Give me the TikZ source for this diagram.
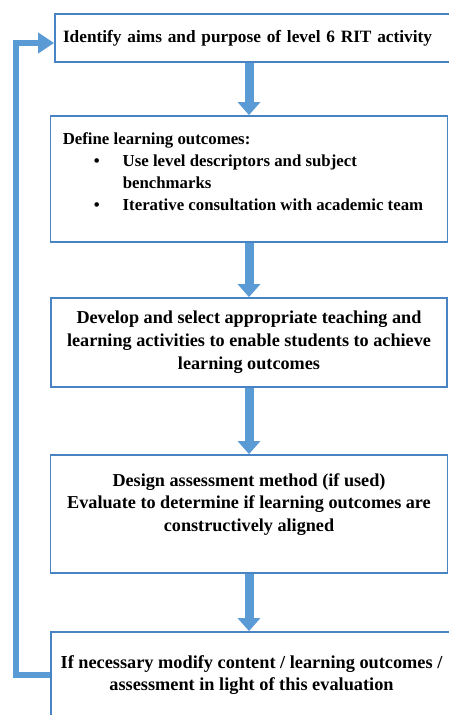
\documentclass[tikz,border=0pt]{standalone}
\usepackage{fontspec}
\setmainfont{Liberation Serif}
\usetikzlibrary{arrows.meta}

\definecolor{flowblue}{RGB}{91,155,213}
\definecolor{edgeblue}{RGB}{72,132,196}

\tikzset{stage/.style={rectangle, draw=edgeblue, line width=1.8pt, fill=white, inner sep=0pt,
        font=\fontsize{18.2}{23}\selectfont\bfseries, align=center},
        stagetext/.style={inner sep=0pt, font=\fontsize{18.2}{22.5}\selectfont\bfseries},
        flow/.style={draw=flowblue, line width=9pt, -{Triangle[length=13pt,width=22pt]}},
        back/.style={draw=flowblue, line width=6pt, -{Triangle[length=16pt,width=20pt]}}}

\begin{document}
\begin{tikzpicture}[x=1pt,y=-1pt]

	\useasboundingbox (0,0) rectangle (449,715); \clip (0,0)
        rectangle (449,715); \fill[white] (0,0) rectangle (449,715);

	\node[stage, minimum width=397pt, minimum height=48pt, text
        width=381pt, align=left, font=\fontsize{17.3}{22}\selectfont\bfseries]
        (aims) at (253.5,38) {Identify aims and purpose of level 6 RIT
        activity};
	\node[stage, minimum width=397pt, minimum height=126pt]
        (outcomes) at (249,179) {};
	\node[stagetext, anchor=north west, align=left,
        font=\fontsize{16.8}{22}\selectfont\bfseries] (outcomes-t) at
        ([xshift=13pt,yshift=-17pt]outcomes.north west) {Define
        learning outcomes:\\ \hspace*{31pt}\textbullet\hspace*{23pt}Use
        level descriptors and subject\\ \hspace*{60pt}benchmarks\\
        \hspace*{31pt}\textbullet\hspace*{23pt}Iterative consultation
        with academic team};
	\node[stage, minimum width=396pt, minimum height=89pt]
        (activities) at (249,342.5) {Develop and select appropriate
        teaching and\\ learning activities to enable students to
        achieve\\ learning outcomes};
	\node[stage, minimum width=397pt, minimum height=118pt] (assess)
        at (249,514) {};
	\node[stagetext, align=center] (assess-t) at
        ([yshift=9.5pt]assess.center) {Design assessment method (if
        used)\\ Evaluate to determine if learning outcomes are\\
        constructively aligned};
	\node[stage, minimum width=401pt, minimum height=86pt,
        font=\fontsize{18.3}{22}\selectfont\bfseries] (modify) at
        (251.5,675) {If necessary modify content / learning outcomes
        /\\ assessment in light of this evaluation};

	\draw[flow] (aims.south -| outcomes.north) -- (outcomes.north);
	\draw[flow] (outcomes.south) -- (activities.north);
	\draw[flow] (activities.south) -- (assess.north);
	\draw[flow] (assess.south) -- (modify.north -| assess.south);
	\draw[back] (modify.west) -- ++(-34,0) |- ([yshift=-5pt]aims.west);
      \end{tikzpicture}
\end{document}
